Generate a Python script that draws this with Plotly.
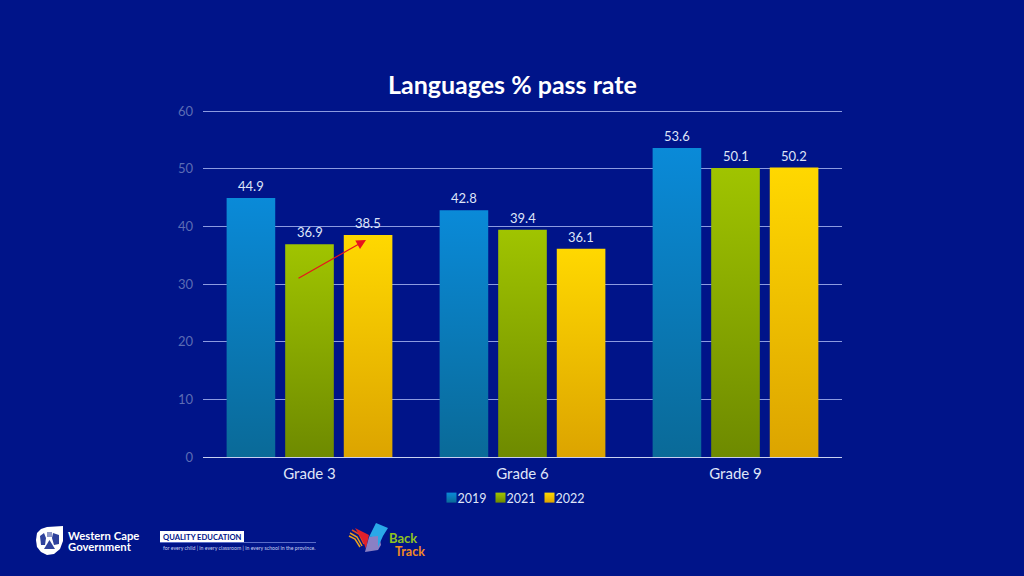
import plotly.graph_objects as go

categories = ["Grade 3", "Grade 6", "Grade 9"]
series_names = ["2019", "2021", "2022"]
values_2019 = [44.9, 42.8, 53.6]
values_2021 = [36.9, 39.4, 50.1]
values_2022 = [38.5, 36.1, 50.2]
all_values = [values_2019, values_2021, values_2022]
flat_colors = ["#0a80c8", "#8fb000", "#f5c800"]
FONT = "Lato"
BG = "#001489"

W, H = 1024, 576
def px(x): return x / W
def py(y): return 1 - y / H

fig = go.Figure()
for name, vals, col in zip(series_names, all_values, flat_colors):
    fig.add_bar(x=categories, y=vals, name=name, marker=dict(color=col, line=dict(width=0)))

ann = []
STEP = 0.2756
for j, vals in enumerate(all_values):
    for i, v in enumerate(vals):
        ann.append(dict(x=i + (j - 1) * STEP, y=v, xref="x", yref="y", text=f"{v:.1f}", showarrow=False,
                        yshift=12, font=dict(family=FONT, size=13, color="#dfe5f8")))

# red arrow
ann.append(dict(xref="paper", yref="paper", x=px(366), y=py(240), ax=-69, ay=39, axref="pixel", ayref="pixel",
                text="", showarrow=True, arrowhead=2, arrowsize=1.6, arrowwidth=1.2, arrowcolor="#e8141c", standoff=0))

def label(x, y, text, size, color="#ffffff", bold=False, anchor="left", family=FONT):
    t = f"<b>{text}</b>" if bold else text
    ann.append(dict(xref="paper", yref="paper", x=px(x), y=py(y), text=t, showarrow=False, xanchor=anchor,
                    yanchor="middle", borderpad=0, borderwidth=0,
                    font=dict(family=family, size=size, color=color)))

label(512, 84, "Languages % pass rate", 25, bold=True, anchor="center")
label(68, 535.5, "Western Cape", 11.3, bold=True)
label(68, 546, "Government", 11.3, bold=True)
label(163, 536.5, "QUALITY EDUCATION", 7.6, color=BG, bold=True)
label(163, 548, "for every child | in every classroom | in every school in the province.", 5.2, color="#c8d0f0")
label(389, 537.5, "Back", 13, color="#8fc31f", bold=True)
label(395, 551, "Track", 12.5, color="#f08a24", bold=True)

def path(points, fill):
    d = "M " + " L ".join(f"{px(x):.5f},{py(y):.5f}" for x, y in points) + " Z"
    return dict(type="path", xref="paper", yref="paper", path=d, fillcolor=fill, line=dict(width=0), layer="above")

def stroke(points, color, width):
    d = "M " + " L ".join(f"{px(x):.5f},{py(y):.5f}" for x, y in points)
    return dict(type="path", xref="paper", yref="paper", path=d, line=dict(color=color, width=width), layer="above")

shapes = [
    # crest
    path([(36, 540), (37, 533), (41, 529), (47, 527), (63, 526), (63, 541), (60, 549), (54, 554), (47, 555), (41, 552), (37, 547)], "#ffffff"),
    path([(40, 536), (44, 533), (46, 538), (45, 545), (41, 545)], "#2f429c"),
    path([(53, 533), (59, 535), (59, 544), (54, 545), (52, 538)], "#2f429c"),
    path([(47, 532), (52, 532), (52, 537), (47, 537)], "#8d97c8"),
    path([(49.5, 540), (55, 549), (44, 549)], "#2f429c"),
    # quality education
    path([(160, 531), (244, 531), (244, 542.5), (160, 542.5)], "#ffffff"),
    dict(type="line", xref="paper", yref="paper", x0=px(160), x1=px(316), y0=py(542.5), y1=py(542.5),
         line=dict(color="#5a6cc8", width=1), layer="above"),
    # back track logo
    stroke([(349, 536), (355, 539), (360, 547)], "#e8a020", 1.5),
    stroke([(350, 533), (357, 537), (362, 546)], "#e8a020", 1.5),
    stroke([(352, 530), (359, 534), (364, 544)], "#e05020", 1.5),
    path([(355, 528), (369, 535), (366, 549), (363, 541)], "#e0202c"),
    path([(369, 537), (379, 534), (381, 545), (378, 550), (365, 552)], "#8a80c4"),
    path([(369, 537), (376, 523), (388, 528), (383, 536), (378, 547), (378, 536)], "#2aa8e8"),
]

fig.update_layout(
    width=W, height=H, autosize=False,
    margin=dict(l=0, r=0, t=0, b=0, autoexpand=False),
    paper_bgcolor=BG, plot_bgcolor=BG,
    barmode="group", bargap=0.175, bargroupgap=0.17,
    font=dict(family=FONT, color="#dfe5f8"),
    annotations=ann, shapes=shapes,
    showlegend=True,
    legend=dict(orientation="h", x=px(505), xanchor="center", y=py(498), yanchor="middle",
                font=dict(family=FONT, size=12.5, color="#dfe5f8"), itemwidth=30,
                entrywidth=4, entrywidthmode="pixels",
                bgcolor="rgba(0,0,0,0)", traceorder="normal"),
    xaxis=dict(domain=[px(203), px(842)], showgrid=False, zeroline=False, showline=False, ticks="", type="category",
               tickfont=dict(family=FONT, size=15, color="#dfe5f8"), ticklabelstandoff=6),
    yaxis=dict(domain=[py(457), py(109.85)], range=[0, 60.2], tick0=0, dtick=10, gridcolor="#8c9be0", gridwidth=1,
               zeroline=True, zerolinecolor="#c8d0f0", zerolinewidth=1.2, ticks="",
               tickfont=dict(family=FONT, size=13, color="#5c6cb4"), ticklabelstandoff=9),
)

GRAD = """
document.documentElement.style.margin='0';
document.documentElement.style.background='#001489';
document.body.style.margin='0';
document.body.style.background='#001489';
document.body.style.overflow='hidden';
var gd = document.querySelector('.js-plotly-plot');
var svg = gd.querySelector('svg.main-svg');
var stops = [['#0a8ad8','#0a6a98'],['#a0c400','#6e8a00'],['#ffd800','#dca400']];
var ns = 'http://www.w3.org/2000/svg';
var defs = svg.querySelector('defs') || svg.insertBefore(document.createElementNS(ns,'defs'), svg.firstChild);
stops.forEach(function(s,i){
  var g = document.createElementNS(ns,'linearGradient');
  g.setAttribute('id','bargrad'+i); g.setAttribute('x1','0'); g.setAttribute('y1','0'); g.setAttribute('x2','0'); g.setAttribute('y2','1');
  [[0,s[0]],[1,s[1]]].forEach(function(p){var st=document.createElementNS(ns,'stop');st.setAttribute('offset',p[0]);st.setAttribute('stop-color',p[1]);g.appendChild(st);});
  defs.appendChild(g);
});
gd.querySelectorAll('.barlayer .trace').forEach(function(t,i){
  t.querySelectorAll('.point path').forEach(function(p){p.style.fill='url(#bargrad'+i+')';});
});
gd.querySelectorAll('.legend .scrollbox, .legend').forEach(function(n){n.removeAttribute('clip-path'); n.style.clipPath='none';});
gd.querySelectorAll('.legend .traces').forEach(function(t,i){
  t.querySelectorAll('.legendpoints path').forEach(function(p){
    p.setAttribute('d','M5,5H-5V-5H5Z'); p.style.fill='url(#bargrad'+i+')';
  });
  var tx=t.querySelector('.legendtext');
  if(tx){tx.setAttribute('x', parseFloat(tx.getAttribute('x'))-14);}
});
"""
fig.write_html("out.html", post_script=GRAD, config=dict(displayModeBar=False))
